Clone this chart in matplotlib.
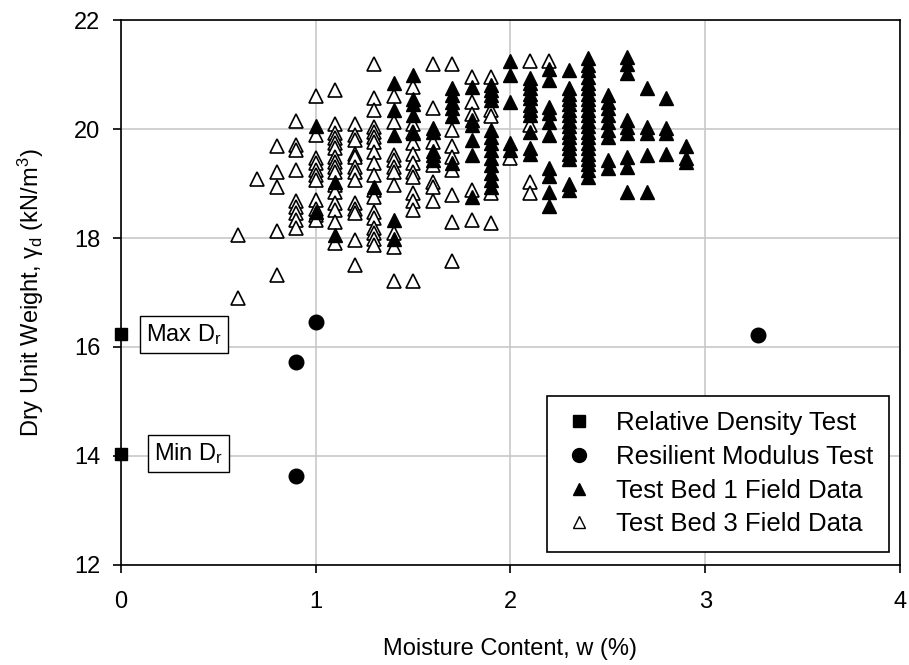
import matplotlib
matplotlib.use("Agg")
import matplotlib.pyplot as plt
from matplotlib.lines import Line2D

plt.rcParams["font.family"] = ["Liberation Sans", "DejaVu Sans"]
plt.rcParams["mathtext.fontset"] = "custom"
plt.rcParams["mathtext.rm"] = "Liberation Sans"
plt.rcParams["mathtext.it"] = "Liberation Sans:italic"

# Relative density test limits (w = 0)
rd_w = [0.0, 0.0]
rd_gd = [16.23, 14.04]

# Resilient modulus test specimens
rm_w = [0.9, 1.0, 0.9, 3.27]
rm_gd = [15.72, 16.46, 13.63, 16.22]

# Test Bed 1 field data: moisture content -> dry unit weights
bed1 = {
    1.0: [20.05, 18.48],
    1.1: [19.03, 18.05],
    1.3: [18.94],
    1.4: [20.84, 20.35, 19.89, 18.33, 17.99],
    1.5: [21.0, 20.55, 20.45, 20.25, 19.92],
    1.6: [20.02, 19.95, 19.6, 19.52, 19.43],
    1.7: [20.75, 20.62, 20.5, 20.38, 20.23, 19.37],
    1.8: [20.78, 20.17, 20.07, 19.8, 19.52, 18.76],
    1.9: [20.81, 20.72, 20.62, 20.53, 19.98, 19.86, 19.74, 19.61, 19.46,
          19.34, 19.19, 19.06, 18.94],
    2.0: [21.24, 20.99, 20.5, 19.74, 19.61],
    2.1: [20.93, 20.84, 20.75, 20.65, 20.56, 20.44, 20.35, 20.26, 19.95,
          19.65, 19.55],
    2.2: [21.11, 20.9, 20.41, 20.29, 20.13, 19.89, 19.28, 19.13, 18.85, 18.58],
    2.3: [21.08, 20.75, 20.65, 20.55, 20.45, 20.35, 20.25, 20.15, 20.05,
          19.95, 19.85, 19.75, 19.65, 19.55, 19.45, 19.0, 18.88],
    2.4: [21.3, 21.17, 21.08, 20.96, 20.85, 20.75, 20.65, 20.55, 20.45,
          20.35, 20.25, 20.15, 20.05, 19.95, 19.85, 19.75, 19.65, 19.55,
          19.45, 19.35, 19.25, 19.12],
    2.5: [20.62, 20.5, 20.38, 20.25, 20.12, 19.98, 19.86, 19.43, 19.28],
    2.6: [21.33, 21.2, 21.02, 20.17, 20.04, 19.92, 19.49, 19.31, 18.85],
    2.7: [20.75, 20.04, 19.92, 19.52, 18.85],
    2.8: [20.56, 20.01, 19.92, 19.55],
    2.9: [19.68, 19.46, 19.4],
}

# Test Bed 3 field data: moisture content -> dry unit weights
bed3 = {
    0.6: [18.05, 16.9],
    0.7: [19.08],
    0.8: [19.68, 19.22, 18.94, 18.13, 17.32],
    0.9: [20.15, 19.71, 19.61, 19.25, 18.67, 18.57, 18.45, 18.33, 18.18],
    1.0: [20.6, 19.89, 19.46, 19.37, 19.25, 19.16, 19.06, 18.7, 18.54,
          18.42, 18.33],
    1.1: [20.72, 20.1, 19.92, 19.83, 19.74, 19.65, 19.49, 19.4, 19.31,
          19.22, 18.97, 18.85, 18.64, 18.51, 18.3, 17.9],
    1.2: [20.1, 19.89, 19.8, 19.55, 19.49, 19.31, 19.22, 19.06, 18.64,
          18.54, 18.45, 17.96, 17.5],
    1.3: [21.2, 20.56, 20.35, 20.04, 19.95, 19.86, 19.77, 19.58, 19.37,
          19.16, 18.88, 18.76, 18.48, 18.36, 18.18, 18.09, 17.99, 17.87],
    1.4: [20.6, 20.13, 19.52, 19.43, 19.31, 19.22, 18.97, 18.09, 17.84, 17.22],
    1.5: [20.78, 20.1, 19.95, 19.74, 19.55, 19.37, 19.22, 19.12, 18.82,
          18.67, 18.51, 17.22],
    1.6: [21.2, 20.38, 19.77, 19.34, 19.03, 18.94, 18.67],
    1.7: [21.2, 19.98, 19.68, 19.49, 19.25, 18.79, 18.3, 17.57],
    1.8: [20.96, 20.5, 20.28, 18.88, 18.33],
    1.9: [20.96, 20.35, 20.23, 18.82, 18.27],
    2.0: [19.46],
    2.1: [21.24, 20.07, 19.03, 18.82],
    2.2: [21.24],
}

x_ticks = [0, 1, 2, 3, 4]
y_ticks = [12, 14, 16, 18, 20, 22]
series_labels = ["Relative Density Test", "Resilient Modulus Test",
                 "Test Bed 1 Field Data", "Test Bed 3 Field Data"]


def flatten(table):
    xs, ys = [], []
    for w, vals in table.items():
        for v in vals:
            xs.append(w)
            ys.append(v)
    return xs, ys


b1_w, b1_gd = flatten(bed1)
b3_w, b3_gd = flatten(bed3)

fig = plt.figure(figsize=(9.09, 6.65), dpi=100)
ax = fig.add_axes([0.1331, 0.1504, 0.857, 0.8195])

ax.plot(b3_w, b3_gd, linestyle="none", marker="^", ms=9.5, mfc="white",
        mec="black", mew=1.2, zorder=3)
ax.plot(b1_w, b1_gd, linestyle="none", marker="^", ms=9.5, mfc="black",
        mec="black", mew=1.0, zorder=4)
ax.plot(rm_w, rm_gd, linestyle="none", marker="o", ms=10.5, mfc="black",
        mec="black", zorder=4)
ax.plot(rd_w, rd_gd, linestyle="none", marker="s", ms=8.5, mfc="black",
        mec="black", zorder=5, clip_on=False)

ax.set_xlim(0, 4)
ax.set_ylim(12, 22)
ax.set_xticks(x_ticks)
ax.set_yticks(y_ticks)
ax.grid(True, color="#c8c8c8", linewidth=1.2, zorder=0)
ax.set_axisbelow(True)
for s in ax.spines.values():
    s.set_linewidth(1.2)
    s.set_color("black")
ax.tick_params(direction="out", length=6, width=1.2, labelsize=17)
ax.tick_params(axis="x", pad=13)
ax.tick_params(axis="y", pad=9)

ax.set_xlabel("Moisture Content, w (%)", fontsize=17, labelpad=18)
ax.set_ylabel("Dry Unit Weight, γ$_\\mathrm{d}$ (kN/m$^3$)", fontsize=17,
              labelpad=20)

box = dict(boxstyle="square,pad=0.25", fc="white", ec="black", lw=1.0)
ax.text(0.13, rd_gd[0], "Max D$_\\mathrm{r}$", fontsize=17, ha="left",
        va="center", bbox=box, zorder=6)
ax.text(0.17, rd_gd[1], "Min D$_\\mathrm{r}$", fontsize=17, ha="left",
        va="center", bbox=box, zorder=6)

handles = [
    Line2D([], [], linestyle="none", marker="s", ms=8, mfc="black", mec="black"),
    Line2D([], [], linestyle="none", marker="o", ms=10, mfc="black", mec="black"),
    Line2D([], [], linestyle="none", marker="^", ms=9, mfc="black", mec="black"),
    Line2D([], [], linestyle="none", marker="^", ms=8, mfc="white", mec="black",
           mew=1.0),
]
leg = ax.legend(handles, series_labels, loc="lower right",
                bbox_to_anchor=(0.986, 0.024), borderaxespad=0,
                fontsize=18.5, frameon=True, fancybox=False,
                edgecolor="black", framealpha=1, handletextpad=0.8,
                labelspacing=0.38, borderpad=0.6, handlelength=1.3)
leg.get_frame().set_linewidth(1.2)

fig.savefig("out.png", dpi=100)
